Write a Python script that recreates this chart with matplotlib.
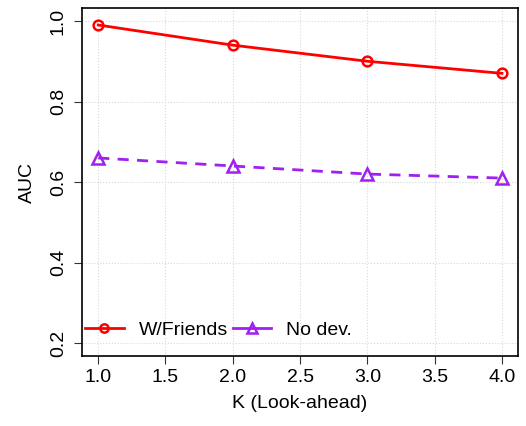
import matplotlib
matplotlib.use("Agg")
import matplotlib.pyplot as plt
from matplotlib.lines import Line2D

k_values = [1.0, 2.0, 3.0, 4.0]
auc_friends = [0.99, 0.94, 0.90, 0.87]
auc_nodev = [0.66, 0.64, 0.62, 0.61]
x_ticks = [1.0, 1.5, 2.0, 2.5, 3.0, 3.5, 4.0]
y_ticks = [0.2, 0.4, 0.6, 0.8, 1.0]

plt.rcParams["font.family"] = ["Liberation Sans", "DejaVu Sans"]

fig = plt.figure(figsize=(5.26, 4.26), dpi=100)
ax = fig.add_axes([0.156, 0.164, 0.829, 0.817])

ax.plot(k_values, auc_friends, color="#FF0000", lw=2, marker="o", ms=7,
        mfc="none", mew=1.8)
ax.plot(k_values, auc_nodev, color="#A020F0", lw=2, ls=(0, (4, 3)), marker="^",
        ms=9, mfc="none", mew=1.8)

ax.set_xlim(0.88, 4.12)
ax.set_ylim(0.168, 1.032)
ax.set_xticks(x_ticks)
ax.set_xticklabels([f"{v:.1f}" for v in x_ticks])
ax.set_yticks(y_ticks)
ax.set_yticklabels([f"{v:.1f}" for v in y_ticks], rotation=90, va="center")
ax.tick_params(direction="out", length=6, labelsize=14, color="#333333")
ax.tick_params(axis="y", pad=5)
ax.grid(True, color="#d8d8d8", ls=":", lw=0.8)
ax.set_axisbelow(True)
for s in ax.spines.values():
    s.set_linewidth(1.2)

ax.set_xlabel("K (Look-ahead)", fontsize=14, labelpad=6)
ax.set_ylabel("AUC", fontsize=14, labelpad=10)

# legend handles drawn solid, as in the original
handles = [
    Line2D([], [], color="#FF0000", lw=2, marker="o", ms=6, mfc="none", mew=1.8),
    Line2D([], [], color="#A020F0", lw=2, marker="^", ms=7, mfc="none", mew=1.8),
]
ax.legend(handles, ["W/Friends", "No dev."], loc="lower left", ncol=2,
          frameon=False, fontsize=14, handlelength=2.0, columnspacing=0.25,
          handletextpad=0.75, bbox_to_anchor=(-0.02, 0.015), borderaxespad=0.2)

fig.savefig("out.png", dpi=100)
